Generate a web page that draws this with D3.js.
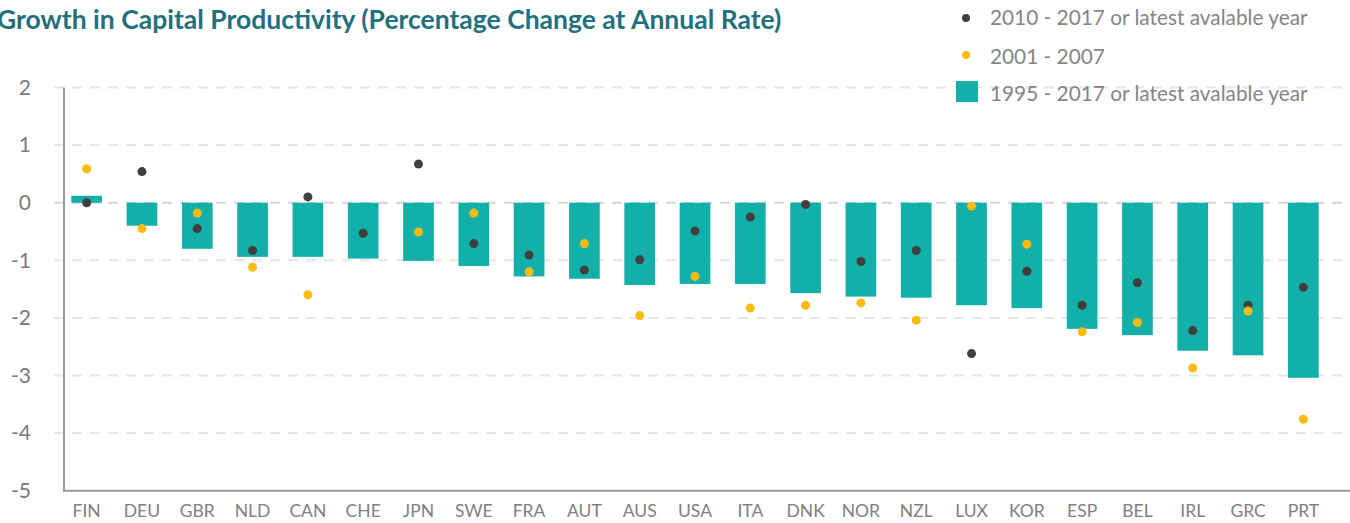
<!DOCTYPE html>
<html>
<head>
<meta charset="utf-8">
<script src="https://cdn.jsdelivr.net/npm/d3@7"></script>
<style>
  body { margin: 0; background: #fff; }
  svg { display: block; font-family: Lato, "Open Sans", sans-serif; }
</style>
</head>
<body>
<svg id="chart" width="1350" height="523"></svg>
<script>
// country codes, sorted as in the original
let countries = ["FIN","DEU","GBR","NLD","CAN","CHE","JPN","SWE","FRA","AUT","AUS","USA",
                 "ITA","DNK","NOR","NZL","LUX","KOR","ESP","BEL","IRL","GRC","PRT"]
// 1995 - 2017 or latest (bars)
let longRun = [0.12,-0.40,-0.80,-0.94,-0.94,-0.97,-1.01,-1.10,-1.28,-1.32,-1.43,-1.41,
               -1.41,-1.57,-1.63,-1.65,-1.78,-1.83,-2.19,-2.30,-2.57,-2.65,-3.04]
// 2010 - 2017 or latest (dark dots)
let recent = [0.00,0.54,-0.45,-0.83,0.10,-0.53,0.67,-0.71,-0.91,-1.17,-0.99,-0.49,
              -0.25,-0.03,-1.02,-0.83,-2.62,-1.19,-1.78,-1.39,-2.22,-1.78,-1.47]
// 2001 - 2007 (yellow dots), CHE has no value
let preCrisis = [0.59,-0.45,-0.18,-1.12,-1.60,null,-0.51,-0.18,-1.20,-0.71,-1.96,-1.28,
                 -1.83,-1.78,-1.74,-2.04,-0.06,-0.72,-2.24,-2.08,-2.87,-1.88,-3.76]
let yTicks = [2, 1, 0, -1, -2, -3, -4, -5]
let legendItems = ["2010 - 2017 or latest avalable year", "2001 - 2007", "1995 - 2017 or latest avalable year"]

let teal = "#12b0a8"
let darkDot = "#3f3f3f"
let yellow = "#fbbb12"

let svg = d3.select("#chart")

let x = d3.scaleBand()
    .domain(countries)
    .range([59, 1331])
    .paddingInner(0.445)
    .paddingOuter(0.2225)

let y = d3.scaleLinear()
    .domain([-5, 2])
    .range([490.7, 87.5])

// gridlines
svg.append("g")
    .selectAll("line")
    .data(yTicks.filter(d => d > -5))
    .enter()
    .append("line")
    .attr("x1", 54)
    .attr("x2", 1350)
    .attr("y1", d => y(d))
    .attr("y2", d => y(d))
    .attr("stroke", d => d === 0 ? "#d6d6d6" : "#e6e6e6")
    .attr("stroke-width", 2)
    .attr("stroke-dasharray", "10,8")

// y tick labels
let yAxis = d3.axisLeft(y).tickValues(yTicks).tickSize(0).tickPadding(0)
    .tickFormat(d => String(d))
let yg = svg.append("g").attr("transform", "translate(31,0)").call(yAxis)
yg.select(".domain").remove()
yg.selectAll("text")
    .attr("font-family", "Lato, sans-serif")
    .attr("font-size", 21)
    .attr("fill", "#7a7a7a")

// bars
svg.append("g")
    .selectAll("rect")
    .data(longRun)
    .enter()
    .append("rect")
    .attr("x", (d, i) => x(countries[i]))
    .attr("width", x.bandwidth())
    .attr("y", d => y(Math.max(0, d)))
    .attr("height", d => Math.abs(y(d) - y(0)))
    .attr("fill", teal)

// dots
let cx = i => x(countries[i]) + x.bandwidth() / 2
svg.append("g")
    .selectAll("circle")
    .data(recent)
    .enter()
    .append("circle")
    .attr("cx", (d, i) => cx(i))
    .attr("cy", d => y(d))
    .attr("r", 4.5)
    .attr("fill", darkDot)

svg.append("g")
    .selectAll("circle")
    .data(preCrisis.map((v, i) => ({v, i})).filter(d => d.v !== null))
    .enter()
    .append("circle")
    .attr("cx", d => cx(d.i))
    .attr("cy", d => y(d.v))
    .attr("r", 4.5)
    .attr("fill", yellow)

// axes lines
svg.append("line")
    .attr("x1", 64).attr("x2", 64)
    .attr("y1", y(2)).attr("y2", y(-5) + 1)
    .attr("stroke", "#9a9a9a").attr("stroke-width", 2)
svg.append("line")
    .attr("x1", 63).attr("x2", 1350)
    .attr("y1", y(-5)).attr("y2", y(-5))
    .attr("stroke", "#9a9a9a").attr("stroke-width", 2)

// x labels
let xAxis = d3.axisBottom(x).tickSize(0).tickPadding(0)
let xg = svg.append("g").attr("transform", "translate(0,505)").call(xAxis)
xg.select(".domain").remove()
xg.selectAll("text")
    .attr("font-family", "Lato, sans-serif")
    .attr("font-size", 17.5)
    .attr("fill", "#808080")

// title
svg.append("text")
    .attr("x", -3)
    .attr("y", 29)
    .attr("font-family", "Lato, sans-serif")
    .attr("font-weight", 700)
    .attr("font-size", 26.5)
    .attr("fill", "#23707d")
    .text("Growth in Capital Productivity (Percentage Change at Annual Rate)")

// legend
let legend = svg.append("g")
let rowY = [18, 57, 94]
legend.append("circle").attr("cx", 966).attr("cy", rowY[0]).attr("r", 4).attr("fill", darkDot)
legend.append("circle").attr("cx", 966).attr("cy", rowY[1] - 2).attr("r", 4).attr("fill", yellow)
legend.append("rect").attr("x", 956).attr("y", 81).attr("width", 22).attr("height", 21).attr("fill", teal)
legend.selectAll("text")
    .data(legendItems)
    .enter()
    .append("text")
    .attr("x", 990)
    .attr("y", (d, i) => rowY[i])
    .attr("dy", "0.35em")
    .attr("font-family", "Lato, sans-serif")
    .attr("font-size", 20.8)
    .attr("fill", "#858585")
    .text(d => d)
</script>
</body>
</html>
